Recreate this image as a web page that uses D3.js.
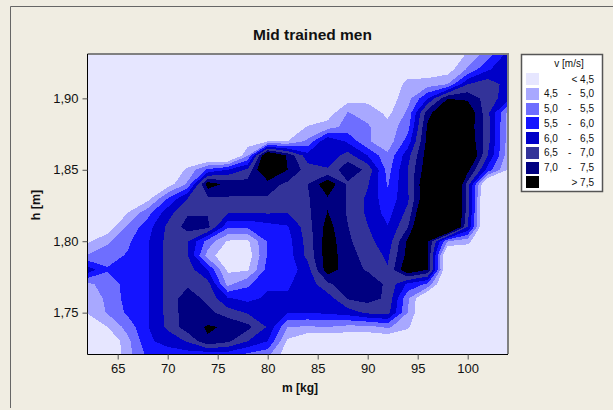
<!DOCTYPE html>
<html><head><meta charset="utf-8">
<style>html,body{margin:0;padding:0;background:#fff}svg{display:block}text{font-family:"Liberation Sans",Arial,sans-serif;fill:#111}</style>
<script src="https://cdn.jsdelivr.net/npm/d3@7"></script></head><body>
<script>
const title = "Mid trained men";
const xTitle = "m [kg]";
const yTitle = "h [m]";
const legendTitle = "v [m/s]";
const masses = [62,64,66,68,70,72,74,76,78,80,82,84,86,88,90,92,94,96,98,100,102,104];
const heights = [1.93,1.92,1.91,1.90,1.89,1.88,1.87,1.86,1.85,1.84,1.83,1.82,1.81,1.80,1.79,1.78,1.77,1.76,1.75,1.74,1.73,1.72];
const xTicks = [65,70,75,80,85,90,95,100];
const yTicks = [1.75,1.80,1.85,1.90];
const thresholds = [4.5,5,5.5,6,6.5,7,7.5];
const bandColors = ["#E6E6FF","#A8A8FF","#6E6EFF","#1414FF","#0000C8","#333399","#000080","#000000"];
const legendLow = ["","4,5","5,0","5,5","6,0","6,5","7,0",""];
const legendHigh = ["< 4,5","5,0","5,5","6,0","6,5","7,0","7,5","> 7,5"];
// speed v [m/s] per height (rows) and mass (columns)
const v193 = [4,4,4,4,4,4,4,4,4,4,4,4,4,4,4,4,4,4,4,4.6,5.3,6.2];
const v192 = [4,4,4,4,4,4,4,4,4,4,4,4,4,4,4,3.9,4.1,4.15,4.25,5.1,5.95,6.3];
const v191 = [4,4,4,4,4,4,4,4,4,4,4,4,4,4,3.9,3.9,4.7,4.75,5.0,6.48,6.8,6.3];
const v190 = [4,4,4,4,4,4,4,4,4,4,4,4,3.9,4.25,4.3,4.2,4.8,6.0,7.48,7.4,6.75,6.25];
const v189 = [4,4,4,4,4,4,4,4,4,4,4,3.9,4.2,5.02,4.85,4.35,5.1,7.3,8.2,8.0,6.65,4.9];
const v188 = [4,4,4,4,4,4,4,4,4,4,4.0,4.55,4.75,5.2,5.05,4.7,5.3,7.6,8.2,7.9,6.7,4.8];
const v187 = [4,4,4,4,4,4,4,3.9,4.2,4.45,4.5,5.1,6.5,5.9,5.05,4.7,5.7,7.7,8.3,8.0,6.7,4.8];
const v186 = [4,4,4,4,4,4,3.6,3.4,4.95,8.5,7.4,6.2,6.2,6.7,6.0,5.1,6.3,7.8,8.3,8.4,6.5,4.75];
const v185 = [4,4,4,4,4,4.6,5.6,6.0,6.6,8.5,7.5,6.75,6.55,7.4,6.85,5.3,6.5,7.9,8.3,7.7,5.8,4.5];
const v184 = [4,4,4,3.9,4.2,5.1,7.8,7.35,7.2,7.2,6.9,7.0,7.9,6.9,6.55,5.45,6.5,8.2,9.5,6.8,3.5,3.5];
const v183 = [3.9,3.9,3.9,4.3,5.5,6.5,6.9,6.95,6.95,6.95,6.8,6.95,7.45,6.95,6.4,5.65,6.4,8.2,9.5,6.7,3.2,3.5];
const v182 = [3.9,3.9,4.5,5.3,6.3,6.95,6.95,6.55,6.5,6.55,6.5,6.9,7.52,6.95,6.4,5.8,6.65,8.6,9.5,6.7,3.2,3.5];
const v181 = [3.9,4.15,5.1,5.8,6.6,7.2,7.15,5.6,5.6,5.8,5.95,6.8,7.7,7.02,6.52,6.02,6.95,9.0,9.4,6.5,3.2,3.5];
const v180 = [4.4,4.9,5.4,5.95,6.65,6.55,5.3,4.45,4.4,5.55,5.8,6.7,7.8,7.1,6.65,6.2,7.6,7.55,5.0,4.7,3.5,3.6];
const v179 = [5.05,5.3,5.55,5.97,6.65,6.5,4.8,4.0,4.2,5.55,5.75,6.65,7.8,7.2,6.8,6.4,7.7,7.5,3.5,3.8,3.8,3.8];
const v178 = [6.3,5.55,5.6,5.97,6.65,6.75,6.0,4.4,4.45,5.7,5.7,6.3,7.8,7.2,6.95,6.55,8.0,7.5,3.6,3.8,3.8,3.8];
const v177 = [4.9,5.2,5.7,5.97,6.65,6.9,6.7,4.85,5.4,5.9,5.95,6.2,6.9,7.35,7.3,6.9,5.9,5.4,3.5,3.8,3.8,3.8];
const v176 = [4.7,5.1,5.7,5.97,6.65,7.3,6.85,6.05,5.85,6.1,6.05,6.05,6.25,7.05,7.2,6.9,5.1,3.6,3.6,3.8,3.8,3.8];
const v175 = [4.55,5.05,5.6,5.97,6.65,7.3,7.15,6.75,6.45,6.3,6.05,6.0,6.1,6.25,6.6,6.7,5.0,3.6,3.6,3.8,3.8,3.8];
const v174 = [4.0,4.5,5.2,5.97,6.6,7.3,7.55,7.45,7.15,6.45,5.0,4.95,5.0,4.85,4.85,5.1,4.6,3.6,3.6,3.8,3.8,3.8];
const v173 = [3.9,3.9,4.85,5.9,6.2,6.55,7.45,7.1,6.5,6.0,4.4,3.9,3.9,3.9,3.9,3.9,3.9,3.6,3.6,3.8,3.8,3.8];
const v172 = [3.8,3.9,4.8,5.6,5.7,5.7,5.5,5.6,5.3,5.1,4.1,3.8,3.8,3.8,3.8,3.8,3.8,3.6,3.6,3.8,3.8,3.8];
const rows = [v193,v192,v191,v190,v189,v188,v187,v186,v185,v184,v183,v182,v181,v180,v179,v178,v177,v176,v175,v174,v173,v172];

const W = 613, H = 410;
const box = {l:88, r:507, t:55, b:354};
const x = d3.scaleLinear().domain([62,104]).range([87.7,507.7]);
const y = d3.scaleLinear().domain([1.72,1.93]).range([355.5,55.5]);
const comma = d3.formatLocale({decimal:",",thousands:".",grouping:[3],currency:["",""]}).format(".2f");

const svg = d3.select("body").append("svg").attr("width",W).attr("height",H);
svg.append("rect").attr("width",W).attr("height",H).attr("fill","#F0EDE2");
svg.append("path").attr("d","M10.5 408V6.5H613").attr("fill","none").attr("stroke","#666");

svg.append("defs").append("clipPath").attr("id","plot").append("rect")
  .attr("x",box.l).attr("y",box.t).attr("width",box.r-box.l).attr("height",box.b-box.t);

const flat = rows.flat();
const nx = masses.length, ny = heights.length;
const contours = d3.contours().size([nx,ny]).thresholds(thresholds)(flat);
const stepM = masses[1]-masses[0], stepH = heights[0]-heights[1];
const path = d3.geoPath(d3.geoTransform({point(cx,cy){
  this.stream.point(x(masses[0]+(cx-0.5)*stepM), y(heights[0]-(cy-0.5)*stepH));
}}));
const plot = svg.append("g").attr("clip-path","url(#plot)");
plot.append("rect").attr("x",box.l).attr("y",box.t).attr("width",box.r-box.l).attr("height",box.b-box.t).attr("fill",bandColors[0]);
plot.selectAll("path").data(contours).join("path")
  .attr("d",path).attr("fill",(d,i)=>bandColors[i+1]).attr("shape-rendering","crispEdges");

// frame
svg.append("path").attr("d",`M${box.l-.5} ${box.t-1}H${box.r+1}V${box.b}`).attr("fill","none").attr("stroke","#808080").attr("stroke-width",2);
svg.append("path").attr("d",`M${box.l-.5} ${box.t-1}V${box.b+.5}H${box.r+1}`).attr("fill","none").attr("stroke","#000");

// axes
const gx = svg.append("g").attr("transform",`translate(0,${box.b+.5})`)
  .call(d3.axisBottom(x).tickValues(xTicks).tickSize(5).tickPadding(4));
const gy = svg.append("g").attr("transform",`translate(${box.l-.5},0)`)
  .call(d3.axisLeft(y).tickValues(yTicks).tickFormat(comma).tickSize(5).tickPadding(4));
[gx,gy].forEach(g=>{g.select(".domain").remove();g.selectAll("line").attr("stroke","#555");
  g.selectAll("text").attr("font-size",13).attr("font-family",'"Liberation Sans",Arial,sans-serif').attr("fill","#222");});

svg.append("text").attr("x",312.5).attr("y",39.5).attr("text-anchor","middle").attr("font-size",15.5).attr("font-weight","bold").text(title);
svg.append("text").attr("x",300).attr("y",392).attr("text-anchor","middle").attr("font-size",12).attr("font-weight","bold").text(xTitle);
svg.append("text").attr("transform","translate(40,205) rotate(-90)").attr("text-anchor","middle").attr("font-size",12.5).attr("font-weight","bold").text(yTitle);

// legend
const lg = svg.append("g");
lg.append("rect").attr("x",521.5).attr("y",54.5).attr("width",81).attr("height",137).attr("fill","#fff").attr("stroke","#555").attr("stroke-width",1.5);
lg.append("text").attr("x",569).attr("y",67).attr("text-anchor","middle").attr("font-size",10).text(legendTitle);
bandColors.forEach((c,i)=>{
  const top = 73+i*14.75;
  lg.append("rect").attr("x",526).attr("y",Math.round(top)).attr("width",13).attr("height",12).attr("fill",c);
  const by = top+9.5;
  if(legendLow[i]){
    lg.append("text").attr("x",544).attr("y",by).attr("font-size",10).text(legendLow[i]);
    lg.append("text").attr("x",568).attr("y",by).attr("font-size",10).text("-");
  }
  lg.append("text").attr("x",594).attr("y",by).attr("text-anchor","end").attr("font-size",10).text(legendHigh[i]);
});
</script></body></html>
